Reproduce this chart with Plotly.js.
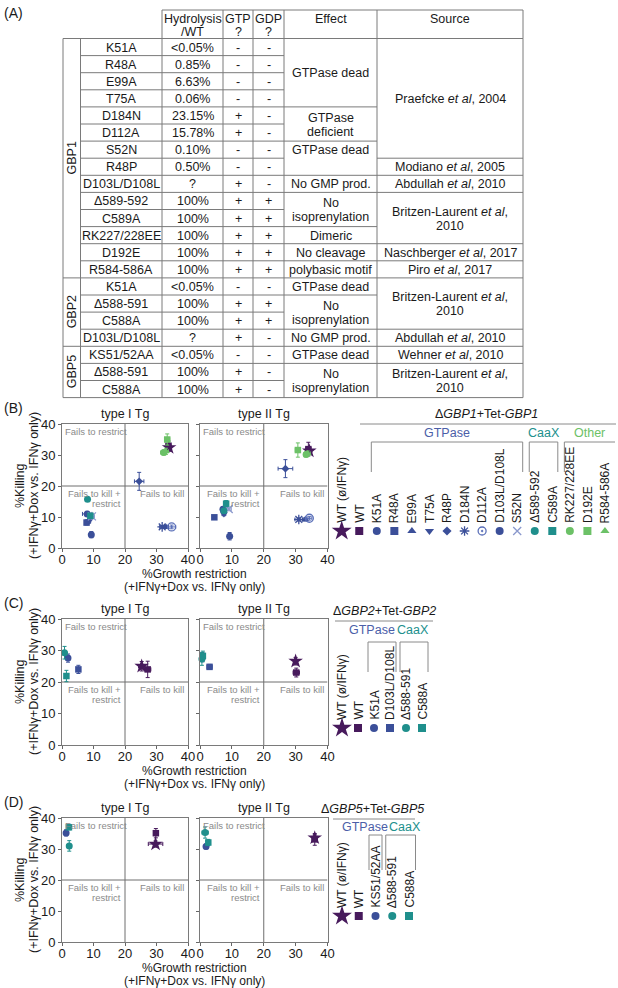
<!DOCTYPE html>
<html><head><meta charset="utf-8">
<script src="https://cdn.plot.ly/plotly-3.0.1.min.js"></script>
<style>html,body{margin:0;padding:0;background:#fff}#chart{width:618px;height:988px}</style>
</head><body><div id="chart"></div>
<script>
// ================= DATA : table (A) =================
const tableHeader = ['Hydrolysis<br>/WT','GTP<br>?','GDP<br>?','Effect','Source'];
const tableGroups = ['GBP1','GBP2','GBP5'];
const tableGroupSizes = [14,4,3];
const mutations = ['K51A','R48A','E99A','T75A','D184N','D112A','S52N','R48P','D103L/D108L','Δ589-592','C589A','RK227/228EE','D192E','R584-586A','K51A','Δ588-591','C588A','D103L/D108L','KS51/52AA','Δ588-591','C588A'];
const hydrolysis = ['&lt;0.05%','0.85%','6.63%','0.06%','23.15%','15.78%','0.10%','0.50%','?','100%','100%','100%','100%','100%','&lt;0.05%','100%','100%','?','&lt;0.05%','100%','100%'];
const gtpBinding = ['-','-','-','-','+','+','-','-','+','+','+','+','+','+','-','+','+','+','-','+','+'];
const gdpBinding = ['-','-','-','-','-','-','-','-','-','+','+','+','+','+','-','+','+','-','-','-','-'];
const effectCells = [['GTPase dead',4],['GTPase<br>deficient',2],['GTPase dead',1],['',1],['No GMP prod.',1],['No<br>isoprenylation',2],['Dimeric',1],['No cleavage',1],['polybasic motif',1],
  ['GTPase dead',1],['No<br>isoprenylation',2],['No GMP prod.',1],
  ['GTPase dead',1],['No<br>isoprenylation',2]];
const sourceCells = [['Praefcke <i>et al</i>, 2004',7],['Modiano <i>et al</i>, 2005',1],['Abdullah <i>et al</i>, 2010',1],['Britzen-Laurent <i>et al</i>,<br>2010',3],['Naschberger <i>et al</i>, 2017',1],['Piro <i>et al</i>, 2017',1],
  ['Britzen-Laurent <i>et al</i>,<br>2010',3],['Abdullah <i>et al</i>, 2010',1],
  ['Wehner <i>et al</i>, 2010',1],['Britzen-Laurent <i>et al</i>,<br>2010',2]];

// ================= DATA : scatter panels =================
const gbp1Labels = ['WT (ø/IFNγ)','WT','K51A','R48A','E99A','T75A','R48P','D184N','D112A','D103L/D108L','S52N','Δ589-592','C589A','RK227/228EE','D192E','R584-586A'];
const gbp1Classes = ['','','GTPase','GTPase','GTPase','GTPase','GTPase','GTPase','GTPase','GTPase','GTPase','CaaX','CaaX','Other','Other','Other'];
const gbp1TypeIGrowth      = [34.0,33.8,8.0,7.8,33.0,8.6,24.5,31.8,34.8,9.3,9.5,8.1,9.0,32.3,33.4,33.0];
const gbp1TypeIKilling     = [32.4,33.0,11.0,8.2,6.8,8.7,21.5,6.8,6.8,4.3,10.2,15.7,10.4,30.8,35.0,31.2];
const gbp1TypeIGrowthErr   = [0.8,0.8,1.5,0.6,0.8,0.5,1.5,0.8,1.3,0.5,0.8,0.4,0.5,1.0,0.8,0.8];
const gbp1TypeIKillingErr  = [1.2,1.5,0.8,0.8,0.5,0.7,2.9,0.4,0.6,1.0,0.8,0.6,0.6,0.8,1.8,1.0];
const gbp1TypeIIGrowth     = [34.3,34.0,7.2,4.5,33.0,7.5,26.8,31.0,34.3,9.3,9.0,7.5,8.2,33.3,30.7,33.8];
const gbp1TypeIIKilling    = [31.3,31.9,12.5,9.9,9.2,11.0,25.6,9.2,9.6,3.8,12.6,12.0,14.3,30.2,31.6,30.5];
const gbp1TypeIIGrowthErr  = [0.8,0.8,0.6,0.6,0.8,0.6,2.3,1.2,0.8,0.5,0.8,0.5,0.5,0.8,0.8,0.8];
const gbp1TypeIIKillingErr = [1.0,2.2,0.8,0.4,0.5,0.6,2.9,0.5,0.6,1.2,0.6,0.6,1.0,0.8,2.3,0.8];

const gbp2Labels = ['WT (ø/IFNγ)','WT','K51A','D103L/D108L','Δ588-591','C588A'];
const gbp2Classes = ['','','GTPase','GTPase','CaaX','CaaX'];
const gbp2TypeIGrowth      = [25.3,27.2,1.9,5.2,0.8,1.4];
const gbp2TypeIKilling     = [25.0,24.0,27.6,24.0,29.3,21.9];
const gbp2TypeIGrowthErr   = [1.0,1.0,0.6,0.6,0.5,0.5];
const gbp2TypeIKillingErr  = [1.5,2.6,1.3,1.3,2.0,1.8];
const gbp2TypeIIGrowth     = [30.0,30.2,0.8,3.0,0.6,0.9];
const gbp2TypeIIKilling    = [26.6,23.0,27.9,24.8,27.3,28.3];
const gbp2TypeIIGrowthErr  = [0.6,1.0,0.5,0.8,0.4,0.4];
const gbp2TypeIIKillingErr = [1.2,1.4,1.5,0.8,2.0,1.5];

const gbp5Labels = ['WT (ø/IFNγ)','WT','KS51/52AA','Δ588-591','C588A'];
const gbp5Classes = ['','','GTPase','CaaX','CaaX'];
const gbp5TypeIGrowth      = [29.7,29.8,1.3,2.3,2.2];
const gbp5TypeIKilling     = [31.6,35.1,35.2,31.0,37.0];
const gbp5TypeIGrowthErr   = [2.3,0.6,0.5,0.7,0.6];
const gbp5TypeIKillingErr  = [1.0,1.5,1.0,1.7,0.8];
const gbp5TypeIIGrowth     = [36.0,36.0,1.9,1.6,2.6];
const gbp5TypeIIKilling    = [33.6,33.1,30.8,35.3,32.1];
const gbp5TypeIIGrowthErr  = [0.8,0.8,0.6,1.0,0.5];
const gbp5TypeIIKillingErr = [1.0,1.9,0.8,1.8,1.0];

const axisTicks = [0,10,20,30,40];
const tgTitles = ['type I Tg','type II Tg'];

// ================= STYLES =================
const W=618,H=988,F='"Liberation Sans", Arial, Helvetica, sans-serif';
const PU='#471a5c',BL='#3b4f99',BL2='#5a6fb8',BL3='#8a98cc',TE='#1f8f8c',GR='#6cc167';
const classColor={GTPase:'#4b5ea8',CaaX:'#21908d',Other:'#6cc167'};
const gbp1Symbols=['star','square','circle','square','triangle-up','triangle-down','diamond','asterisk-open','circle-open-dot','circle','x-thin-open','circle','square','circle','square','triangle-up'];
const gbp1Colors=[PU,PU,BL,BL,BL,BL,BL,BL,BL2,BL,BL3,TE,TE,GR,GR,GR];
const gbp2Symbols=['star','square','circle','square','circle','square'];
const gbp2Colors=[PU,PU,BL,BL,TE,TE];
const gbp5Symbols=['star','square','circle','circle','square'];
const gbp5Colors=[PU,PU,BL,TE,TE];

const ann=[],shp=[],traces=[];
function txt(x,y,text,o){ann.push(Object.assign({xref:'x7',yref:'y7',x:x,y:y,text:text,showarrow:false,
  font:{family:F,size:12.5,color:'#1a1a1a'},xanchor:'center',yanchor:'middle',borderpad:0},o||{}));}
function ln(x0,y0,x1,y1,c,w){shp.push({type:'line',xref:'x7',yref:'y7',x0:x0,y0:y0,x1:x1,y1:y1,line:{color:c||'#7a7a7a',width:w||1}});}
function mlines(x,yc,text,gap,o){const p=text.split('<br>');p.forEach((s,k)=>txt(x,yc+(k-(p.length-1)/2)*gap,s,o));}

// ================= TABLE =================
const C=[63,80.5,162,223,253,284,377,523], HT=10, HB=38.5, RH=17.1;
const rowTop=i=>HB+i*RH;
const nRows=mutations.length, TBOT=rowTop(nRows);
txt(3,13,'(A)',{xanchor:'left',font:{family:F,size:14,color:'#1a1a1a'}});
ln(C[2],HT,C[7],HT);
for(let k=2;k<=7;k++) ln(C[k],HT,C[k],HB);
tableHeader.forEach((h,k)=>{h.split('<br>').forEach((p,j)=>txt((C[k+2]+C[k+3])/2,HT+8.5+j*13,p));});
for(let k=0;k<8;k++) ln(C[k],HB,C[k],TBOT);
ln(C[0],HB,C[7],HB); ln(C[0],TBOT,C[7],TBOT);
for(let i=1;i<nRows;i++) ln(C[1],rowTop(i),C[5],rowTop(i));
let r=0;
tableGroups.forEach((g,k)=>{const n=tableGroupSizes[k]; if(r>0) ln(C[0],rowTop(r),C[1],rowTop(r));
  txt((C[0]+C[1])/2+0.5,(rowTop(r)+rowTop(r+n))/2,g,{textangle:-90}); r+=n;});
mutations.forEach((m,i)=>{const yc=rowTop(i)+RH/2+0.5;
  txt((C[1]+C[2])/2,yc,m); txt((C[2]+C[3])/2,yc,hydrolysis[i]);
  txt((C[3]+C[4])/2,yc,gtpBinding[i]); txt((C[4]+C[5])/2,yc,gdpBinding[i]);});
r=0; effectCells.forEach(([t,n])=>{ if(r>0&&t!=='') ln(C[5],rowTop(r),C[6],rowTop(r));
  if(t) mlines((C[5]+C[6])/2,(rowTop(r)+rowTop(r+n))/2+0.5,t,14); r+=n;});
r=0; sourceCells.forEach(([t,n])=>{ if(r>0) ln(C[6],rowTop(r),C[7],rowTop(r));
  mlines((C[6]+C[7])/2,(rowTop(r)+rowTop(r+n))/2+0.5,t,14); r+=n;});

// ================= SCATTER PANELS =================
const XI=[62,188], XII=[200,327.5];
const layout={width:W,height:H,margin:{l:0,r:0,t:0,b:0},paper_bgcolor:'#fff',plot_bgcolor:'rgba(0,0,0,0)',showlegend:false,
  font:{family:F,color:'#1a1a1a'}};
const axBase={range:[0,40],tickvals:axisTicks,ticks:'outside',ticklen:3,tickwidth:1,tickcolor:'#666',showline:true,linecolor:'#7a7a7a',linewidth:1,
  mirror:true,showgrid:false,zeroline:false,tickfont:{family:F,size:13,color:'#1a1a1a'},fixedrange:true,ticklabelstandoff:-4};

function markerStyle(sym,col,legend){
  const open=/open/.test(sym);
  let size = sym==='star'?(legend?15:11):(sym==='square'?(legend?8:6.5):(sym==='diamond'?(legend?7:6):(open?8:(legend?8:7))));
  return {symbol:sym,size:size,color:col,line:{color:col,width:open?1.3:0}};
}

function panel(letter,top,bot,axI,axII,sets,symbols,colors){
  const yd=[1-bot/H,1-top/H];
  [[axI,XI,sets[0],true],[axII,XII,sets[1],false]].forEach(([n,xr,s,first],pi)=>{
    const xk='xaxis'+(n===1?'':n), yk='yaxis'+(n===1?'':n), xr_='x'+(n===1?'':n), yr_='y'+(n===1?'':n);
    layout[xk]=Object.assign({},axBase,{domain:[xr[0]/W,xr[1]/W],anchor:yr_});
    layout[yk]=Object.assign({},axBase,{domain:yd,anchor:xr_,showticklabels:first,ticklabelstandoff:0});
    shp.push({type:'line',xref:xr_,yref:yr_,x0:20,x1:20,y0:0,y1:40,layer:'below',line:{color:'#6e6e6e',width:1}});
    shp.push({type:'line',xref:xr_,yref:yr_,x0:0,x1:40,y0:20,y1:20,layer:'below',line:{color:'#6e6e6e',width:1}});
    const qf={family:F,size:9.5,color:'#8a8a8a'};
    ann.push({xref:xr_,yref:yr_,x:0,y:40,xshift:2,yshift:-1,xanchor:'left',yanchor:'top',text:'Fails to restrict',showarrow:false,font:qf,borderpad:0});
    ann.push({xref:xr_,yref:yr_,x:20,y:20,xshift:-3,yshift:-1,xanchor:'right',yanchor:'top',text:'Fails to kill +',showarrow:false,font:qf,borderpad:0});
    ann.push({xref:xr_,yref:yr_,x:20,y:20,xshift:-3,yshift:-11,xanchor:'right',yanchor:'top',text:'restrict',showarrow:false,font:qf,borderpad:0});
    ann.push({xref:xr_,yref:yr_,x:40,y:20,xshift:-3,yshift:-1,xanchor:'right',yanchor:'top',text:'Fails to kill',showarrow:false,font:qf,borderpad:0});
    txt((xr[0]+xr[1])/2,top-10,tgTitles[pi],{font:{family:F,size:12.5,color:'#1a1a1a'}});
    s.x.forEach((v,i)=>{
      traces.push({type:'scatter',mode:'markers',xaxis:xr_,yaxis:yr_,x:[v],y:[s.y[i]],cliponaxis:false,hoverinfo:'skip',
        error_x:{type:'data',array:[s.ex[i]],color:colors[i],thickness:1,width:2},
        error_y:{type:'data',array:[s.ey[i]],color:colors[i],thickness:1,width:2},
        marker:markerStyle(symbols[i],colors[i],false)});
    });
  });
  const yc=(top+bot)/2;
  const tf={family:F,size:12,color:'#1a1a1a'};
  txt(3,top-16,'('+letter+')',{xanchor:'left',font:{family:F,size:14,color:'#1a1a1a'}});
  txt(20,yc,'%Killing',{textangle:-90});
  txt(34,yc,'(+IFNγ+Dox vs. IFNγ only)',{textangle:-90});
  txt((XI[0]+XII[1])/2,bot+25.5,'%Growth restriction',{font:tf});
  txt((XI[0]+XII[1])/2,bot+38.5,'(+IFNγ+Dox vs. IFNγ only)',{font:tf});
}

function legend(cfg,labels,classes,symbols,colors){
  labels.forEach((lab,i)=>{const x=cfg.x0+i*cfg.dx;
    txt(x,cfg.labelBottom,lab,{textangle:-90,yanchor:'bottom',font:{family:F,size:12,color:'#1a1a1a'}});
    traces.push({type:'scatter',mode:'markers',xaxis:'x7',yaxis:'y7',x:[x],y:[cfg.markerY],cliponaxis:false,hoverinfo:'skip',
      marker:markerStyle(symbols[i],colors[i],true)});
  });
  txt(cfg.titleX,cfg.titleY,cfg.title,{font:{family:F,size:12.5,color:'#1a1a1a'}});
  ln(cfg.lineX[0],cfg.lineY,cfg.lineX[1],cfg.lineY,'#8a8a8a');
  const runs=[]; classes.forEach((c,i)=>{ if(!c) return; const last=runs[runs.length-1];
    if(last&&last.c===c&&last.e===i-1) last.e=i; else runs.push({c:c,s:i,e:i}); });
  runs.forEach((ru,k)=>{
    const x0=cfg.x0+ru.s*cfg.dx-cfg.pad, x1=(k===runs.length-1&&cfg.lastRight)?cfg.lastRight:cfg.x0+ru.e*cfg.dx+cfg.pad;
    ln(x0,cfg.bTop,x1,cfg.bTop,'#8a8a8a');
    ln(x0,cfg.bTop,x0,cfg.bBot,'#8a8a8a');
    if(!(k===runs.length-1&&cfg.noLastRight)) ln(x1,cfg.bTop,x1,cfg.bBot,'#8a8a8a');
    const cx=cfg.classX?cfg.classX[k]:(x0+x1)/2;
    txt(cx,cfg.classY,ru.c,{font:{family:F,size:12.5,color:classColor[ru.c]}});
  });
}

panel('B',424,548,1,2,[
  {x:gbp1TypeIGrowth,y:gbp1TypeIKilling,ex:gbp1TypeIGrowthErr,ey:gbp1TypeIKillingErr},
  {x:gbp1TypeIIGrowth,y:gbp1TypeIIKilling,ex:gbp1TypeIIGrowthErr,ey:gbp1TypeIIKillingErr}],gbp1Symbols,gbp1Colors);
panel('C',619,745,3,4,[
  {x:gbp2TypeIGrowth,y:gbp2TypeIKilling,ex:gbp2TypeIGrowthErr,ey:gbp2TypeIKillingErr},
  {x:gbp2TypeIIGrowth,y:gbp2TypeIIKilling,ex:gbp2TypeIIGrowthErr,ey:gbp2TypeIIKillingErr}],gbp2Symbols,gbp2Colors);
panel('D',818,942,5,6,[
  {x:gbp5TypeIGrowth,y:gbp5TypeIKilling,ex:gbp5TypeIGrowthErr,ey:gbp5TypeIKillingErr},
  {x:gbp5TypeIIGrowth,y:gbp5TypeIIKilling,ex:gbp5TypeIIGrowthErr,ey:gbp5TypeIIKillingErr}],gbp5Symbols,gbp5Colors);

legend({x0:341.7,dx:17.55,markerY:531,labelBottom:524,title:'Δ<i>GBP1</i>+Tet-<i>GBP1</i>',titleX:486,titleY:414,
  lineX:[360,616],lineY:424,classY:433,bTop:442,bBot:472,pad:5.5,lastRight:615,noLastRight:true},gbp1Labels,gbp1Classes,gbp1Symbols,gbp1Colors);
legend({x0:342,dx:16,markerY:728,labelBottom:721,title:'Δ<i>GBP2</i>+Tet-<i>GBP2</i>',titleX:384,titleY:611,
  lineX:[335,433],lineY:621,classY:630,bTop:642,bBot:672,pad:6,classX:[372,413]},gbp2Labels,gbp2Classes,gbp2Symbols,gbp2Colors);
legend({x0:342,dx:16.75,markerY:916,labelBottom:909,title:'Δ<i>GBP5</i>+Tet-<i>GBP5</i>',titleX:372,titleY:809,
  lineX:[333,415],lineY:819,classY:827,bTop:835,bBot:870,pad:6.5,classX:[365,405]},gbp5Labels,gbp5Classes,gbp5Symbols,gbp5Colors);

layout.xaxis7={domain:[0,1],range:[0,W],visible:false,fixedrange:true,anchor:'y7'};
layout.yaxis7={domain:[0,1],range:[H,0],visible:false,fixedrange:true,anchor:'x7'};
traces.push({type:'scatter',mode:'markers',xaxis:'x7',yaxis:'y7',x:[0],y:[0],marker:{opacity:0},hoverinfo:'skip'});
layout.annotations=ann; layout.shapes=shp;
Plotly.newPlot('chart',traces,layout,{staticPlot:true,displayModeBar:false});
</script></body></html>
